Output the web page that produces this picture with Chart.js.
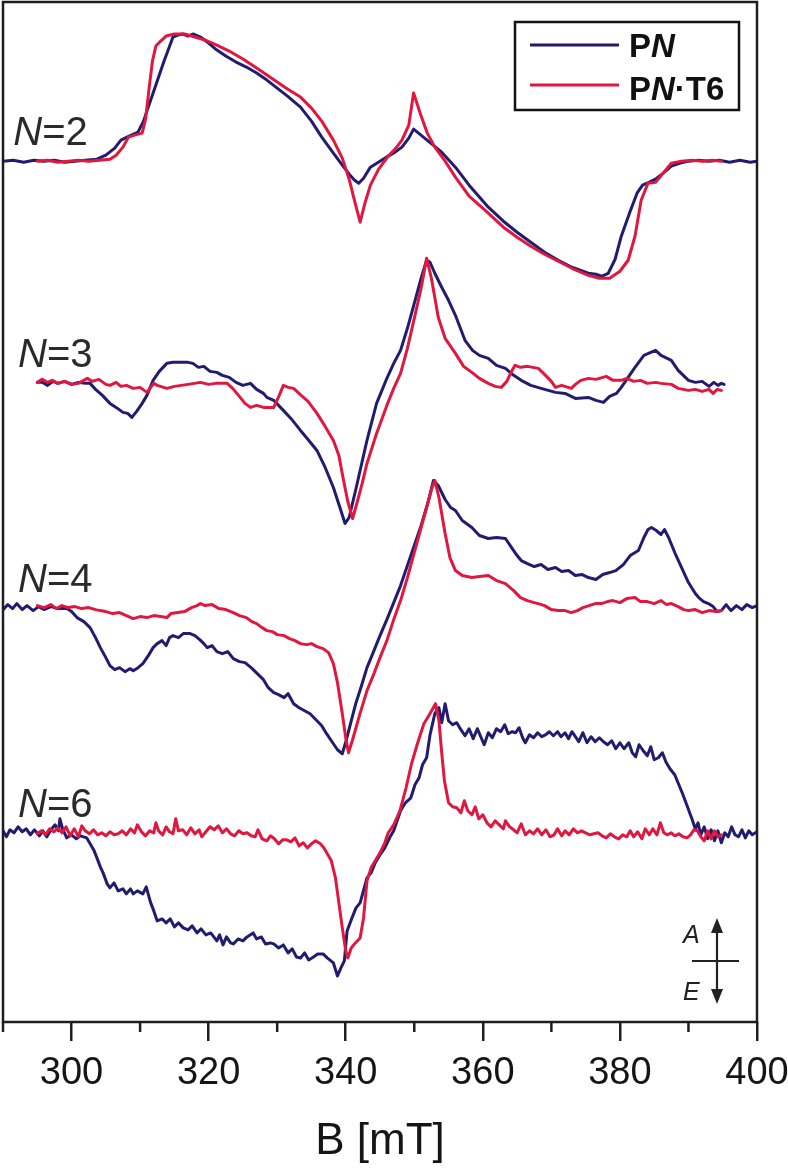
<!DOCTYPE html>
<html>
<head>
<meta charset="utf-8">
<script src="https://cdn.jsdelivr.net/npm/chart.js@4.4.1/dist/chart.umd.min.js"></script>
<style>
  html, body { margin: 0; padding: 0; background: #fff; }
  #chart { display: block; }
</style>
</head>
<body>
<canvas id="chart" width="788" height="1168"></canvas>
<script>
// field axis
const fieldTicks = [300, 320, 340, 360, 380, 400];
const minorTicks = [290, 310, 330, 350, 370, 390];

// stacked spectra: N value and the vertical offset of its baseline (arb. units)
const nValues = [2, 3, 4, 6];
const baselines = [860, 638, 414, 189];
const seriesNames = ['PN', 'PN·T6'];

// [B (mT), signal], signal > 0 = absorption
const pn2 = [[290,0],[291.5,1],[293,-1],[294.5,1],[296,0],[297.5,1],[299,-1],[300.5,0],[302,1],[303.7,2],[305,6],[306.3,13],[307.2,21],[308.4,25],[309.7,29],[310.5,40],[311.5,60],[312.5,80],[313.5,100],[314.8,124],[315.5,126],[316.3,127],[317,125],[317.8,127],[318.8,124],[320,118],[321.2,111],[322.5,105],[324,99],[325.5,94],[327,88],[328.5,81],[330,73],[331.5,65],[333.4,54],[335,40],[336.5,24],[338.2,8],[339.5,-4],[340.5,-13],[341.3,-19],[341.9,-22],[342.6,-17],[343.6,-6],[345,0],[346.2,5],[347.2,9],[348.2,14],[349.2,23],[349.9,32],[350.8,27],[352.4,18],[354,9],[356,-6],[358,-24],[360.8,-46],[363,-60],[365,-71],[367,-81],[369,-91],[371,-99],[373,-106],[375.4,-112],[376.5,-113],[377.3,-115],[378.3,-112],[379.3,-98],[380.2,-75],[381.5,-50],[382.5,-32],[383.3,-24],[384.3,-21],[385.2,-18],[386.5,-11],[387.5,-5],[388.8,-2],[390,0],[391.5,1],[393,0],[394.5,1],[396,-1],[397.5,1],[399,-1],[400,0]];
const t6_2 = [[295,0],[296.5,1],[298,-1],[299.5,0],[301,1],[302.5,0],[304,1],[305.6,2],[306.5,6],[307.5,14],[308.3,24],[309.2,26],[310.3,28],[310.8,42],[311.3,72],[311.8,100],[312.3,115],[313,120],[313.8,125],[315,127],[316.5,127],[318,124],[319.5,121],[321.2,116],[323,110],[325,102],[327,93],[328.5,86],[330,79],[331.5,72],[333.4,64],[335,53],[336.5,40],[338.2,21],[339.5,3],[340.5,-18],[341.3,-40],[342.1,-61],[342.8,-42],[343.6,-24],[344.8,-8],[346.2,5],[347.2,12],[348.2,21],[349.2,36],[349.9,68],[351,45],[351.9,28],[353,14],[354.5,0],[356,-16],[358,-35],[360.8,-52],[363,-66],[365,-76],[367,-85],[369,-93],[371,-100],[373,-107],[375.4,-114],[377,-117],[378.5,-117],[380,-110],[381.2,-99],[382.2,-75],[383.1,-39],[384.1,-22],[385.2,-21],[386.3,-12],[387.5,-2],[389,0],[390.5,1],[392,0],[393.5,1],[394.8,0]];

const pn3 = [[295,1],[295.8,1],[296.5,-2],[297.3,2],[298,0],[299,2],[300,-1],[301,1],[302,0],[302.7,0],[303.5,-6],[304.5,-12],[305.6,-20],[306.5,-24],[307.5,-29],[308.2,-30],[308.8,-34],[309.5,-28],[310.3,-20],[311,-12],[311.9,3],[312.8,12],[313.9,20],[314.8,21],[316,21],[317,21],[317.7,20],[318.5,16],[319.3,17],[320.2,12],[321.2,11],[322,8],[323,6],[324,1],[325,-2],[326.1,0],[327,-6],[328,-10],[328.5,-14],[329.5,-17],[330.9,-27],[332,-35],[333.4,-47],[334.5,-56],[335.8,-67],[337,-84],[338.2,-104],[339.2,-125],[339.9,-140],[340.5,-134],[341.5,-105],[343.1,-57],[344.5,-20],[346,5],[347,20],[348,33],[349,55],[350,80],[351,105],[351.8,123],[352.3,121],[353,110],[354,96],[355,83],[356,68],[357.4,43],[358.5,33],[359.5,28],[360.8,25],[362,18],[363.3,15],[364.5,8],[365.6,3],[367,-2],[368.5,-5],[370.6,-9],[372,-10],[373.5,-15],[375.4,-14],[376.5,-17],[377.6,-19],[378.5,-13],[379.5,-10],[380.2,-4],[381.2,6],[382.2,16],[383.5,28],[384.5,31],[385.2,33],[386,28],[387.5,23],[388.5,13],[390,3],[391,1],[392,2],[393,-3],[393.7,1],[394.3,-2],[394.8,0],[395.2,-1]];
const t6_3 = [[295,1],[295.7,4],[296.5,1],[297.2,3],[298,0],[299,2],[300,-1],[301,0],[302.3,5],[303,2],[304,4],[305,-1],[305.6,-2],[306.5,1],[307.2,-3],[308,-2],[309,-5],[310,-4],[311,-9],[312,0],[312.5,-2],[313.9,-5],[315,-3],[316,-2],[317,-1],[318.8,1],[320,-1],[321,0],[322.7,0],[323.5,-5],[324.6,-14],[325.3,-20],[326.1,-24],[327,-22],[328,-24],[329.5,-24],[330.3,-12],[330.9,-2],[331.6,-4],[332.4,-5],[333.5,-12],[334.5,-18],[335.8,-30],[337,-43],[338.2,-57],[339,-72],[339.6,-94],[340.3,-118],[341,-135],[341.7,-118],[342.4,-100],[343.1,-80],[344.5,-50],[346,-22],[347,-5],[348,10],[349,35],[350,65],[351,95],[351.8,125],[352.5,105],[353.5,66],[354.5,45],[356,30],[357.2,17],[358.4,11],[359.5,5],[360.8,0],[361.8,-3],[362.7,-4],[363.5,2],[364.2,12],[364.7,18],[365.5,16],[366.5,17],[368.1,15],[369,9],[370,2],[370.6,-4],[371.5,-2],[372.9,-5],[373.5,-1],[374.3,3],[375.4,5],[376.5,4],[378,7],[379,3],[380.2,3],[381,5],[382,2],[383,3],[384,0],[385.2,1],[386,0],[387.5,-1],[388.5,-5],[390,-7],[391,-6],[392,-8],[393,-6],[393.6,-10],[394.2,-6],[394.8,-7]];

const pn4 = [[290,-2],[290.7,3],[291.4,-1],[292,4],[292.8,-2],[293.5,2],[294.4,-3],[295.2,1],[296,-2],[297,1],[298,-1],[299.3,-1],[300,-4],[300.8,-10],[301.8,-14],[302.7,-20],[303.5,-30],[304.2,-40],[305,-50],[305.6,-58],[306.3,-62],[307,-60],[307.8,-64],[308.5,-61],[309,-63],[309.7,-60],[310.4,-56],[311.2,-48],[311.9,-40],[312.5,-36],[313.2,-33],[313.8,-38],[314.3,-30],[314.8,-28],[315.6,-30],[316.3,-26],[317.3,-26],[318,-28],[318.7,-32],[319.3,-36],[319.8,-40],[320.5,-38],[321.2,-44],[322,-46],[322.8,-44],[323.6,-51],[324.5,-54],[325.3,-55],[326.2,-60],[327.1,-66],[328,-72],[328.7,-80],[329.5,-85],[330.2,-87],[331,-90],[331.6,-86],[332.4,-96],[333.2,-100],[334,-103],[334.8,-106],[335.8,-113],[336.5,-118],[337.2,-126],[338.2,-136],[338.8,-142],[339.5,-146],[340.1,-132],[340.7,-116],[341.5,-95],[342.3,-78],[343.1,-60],[344,-45],[345,-28],[346,-12],[347,5],[348,22],[349,42],[350,62],[351,82],[352,105],[352.8,127],[353.5,122],[354.5,108],[355.3,100],[356,97],[357,87],[358.4,80],[359.5,72],[360.8,69],[362,70],[363.3,69],[364.2,60],[365,52],[365.6,47],[366.5,44],[367.5,41],[368.5,43],[369.5,38],[370.6,40],[371.5,36],[372.5,37],[373.5,32],[374.5,33],[375.4,30],[376.5,28],[377.5,33],[378.5,35],[379.4,37],[380.5,43],[381.5,52],[382.7,57],[383.5,70],[384.1,78],[384.6,80],[385.3,77],[386,73],[386.5,78],[387.1,70],[388,55],[389,40],[390,25],[391,14],[391.5,10],[392.2,6],[392.9,4],[393.6,1],[394.2,-4],[394.8,-3],[395.5,3],[396.2,-3],[397,2],[397.8,-2],[398.5,3],[399.3,0],[400,2]];
const t6_4 = [[295,2],[296,0],[297,3],[297.8,-1],[298.6,2],[299.5,0],[300.5,1],[301.5,-1],[302.5,0],[303.5,-2],[304.2,-3],[305,-4],[306,-6],[307,-5],[308,-8],[309,-11],[310,-9],[311,-10],[312,-8],[313,-9],[313.9,-10],[314.5,-6],[315.5,-5],[316.5,-4],[317.5,0],[318.3,2],[318.8,4],[319.5,2],[320.5,3],[321.5,-1],[322.5,-2],[323.6,-5],[324.5,-8],[325.5,-10],[326.3,-14],[327,-16],[327.8,-20],[328.5,-23],[329.3,-24],[330,-27],[331,-28],[331.8,-31],[332.6,-33],[333.4,-36],[334.3,-37],[335,-36],[335.8,-39],[336.7,-41],[337.5,-45],[338.2,-56],[338.8,-75],[339.5,-106],[340,-130],[340.4,-145],[341,-132],[342,-108],[343.1,-83],[344,-68],[345,-50],[346,-33],[347,-12],[348,7],[349,30],[350,55],[351,80],[352,105],[352.6,120],[353,127],[353.6,110],[354.5,74],[355.2,50],[356,37],[357,32],[358.4,30],[359.5,31],[360.8,32],[362,27],[363.3,24],[364.5,17],[365.5,10],[366.5,7],[367.5,5],[368.1,4],[369,2],[370,-2],[371,-3],[372,-3],[372.9,-5],[373.8,-3],[374.6,0],[375.5,2],[376.4,4],[377.3,4],[378.2,6],[379,7],[380,5],[381,9],[382.2,10],[383,6],[384,6],[385,4],[386,7],[386.8,3],[387.5,4],[388.5,1],[389.3,-2],[390,-3],[391,-2],[392,-5],[393,-3],[394,-4],[394.8,-3]];

const pn6 = [[290,2],[290.5,-4],[291,3],[291.6,0],[292.2,6],[292.8,1],[293.4,4],[294,-2],[294.6,3],[295.3,-3],[295.8,2],[296.4,-4],[297,3],[297.6,8],[298.1,2],[298.3,14],[298.7,4],[299.3,-5],[300,-2],[300.7,-6],[301.3,-3],[302.2,-5],[302.8,-12],[303.3,-18],[303.7,-25],[304.2,-34],[304.6,-40],[305.2,-51],[305.6,-55],[306.2,-50],[306.8,-58],[307.5,-56],[308,-61],[308.6,-56],[309,-61],[309.6,-58],[310.4,-61],[310.9,-54],[311.5,-69],[312,-78],[312.5,-88],[313.2,-86],[313.8,-90],[314.4,-86],[315,-94],[315.6,-90],[316.3,-95],[317,-97],[317.6,-93],[318.3,-100],[318.9,-96],[319.6,-102],[320.3,-100],[321.2,-108],[321.6,-102],[322.1,-112],[322.6,-104],[323.2,-110],[323.6,-111],[324.3,-106],[325,-108],[325.6,-104],[326.5,-100],[327,-106],[327.7,-104],[328.3,-111],[329,-110],[329.5,-111],[330.2,-115],[330.9,-112],[331.6,-120],[332.2,-116],[332.8,-124],[333.4,-125],[334,-120],[334.6,-127],[335.3,-124],[335.9,-121],[336.7,-121],[337.3,-125],[338.2,-130],[338.8,-143],[339.3,-135],[339.8,-128],[340.2,-98],[340.8,-87],[341.5,-75],[342.1,-70],[343.1,-45],[343.7,-40],[344.3,-30],[345,-22],[345.7,-15],[346.4,-5],[347,2],[348,22],[348.7,30],[349.5,35],[350.1,48],[350.7,55],[351.2,68],[351.8,75],[352.3,98],[353,119],[353.6,125],[354,110],[354.5,129],[355,112],[355.6,108],[356.2,110],[356.8,103],[357.4,97],[358,104],[358.6,94],[359.2,104],[359.7,96],[360.2,88],[360.8,100],[361.4,95],[362,104],[362.6,101],[363.2,108],[363.7,99],[364.3,101],[364.8,100],[365.3,105],[365.8,95],[366.2,90],[366.8,98],[367.4,95],[368,100],[368.6,96],[369.2,98],[369.7,101],[370.3,97],[370.9,101],[371.4,96],[372,100],[372.5,94],[373,101],[373.5,96],[374,91],[374.6,100],[375.2,90],[375.8,96],[376.4,91],[377,95],[377.6,91],[378.2,88],[378.8,92],[379.4,84],[380,90],[380.6,84],[381.3,90],[381.8,80],[382.3,76],[382.8,88],[383.4,82],[384,77],[384.5,86],[385,73],[385.6,75],[386.2,80],[386.7,71],[387.3,64],[388,58],[388.6,48],[389.2,38],[389.8,27],[390.5,14],[391,4],[391.4,10],[391.8,-2],[392.3,6],[392.8,-6],[393.3,3],[393.8,-8],[394.3,2],[394.8,-10],[395.3,0],[395.8,-4],[396.3,6],[396.8,-2],[397.3,-4],[397.8,3],[398.3,-5],[398.8,2],[399.3,-2],[400,1]];
const t6_6 = [[295,-1],[295.6,2],[296.2,-2],[296.8,4],[297.4,1],[298,5],[298.6,0],[299.2,6],[299.8,-3],[300.4,4],[301,-4],[301.5,7],[302,2],[302.6,-1],[303.2,3],[303.8,-2],[304.4,0],[305,-3],[305.6,1],[306.2,-2],[306.8,-1],[307.4,2],[308,-2],[308.6,4],[309.2,0],[309.6,8],[310.2,1],[310.8,-3],[311.4,2],[312,0],[312.3,10],[312.7,2],[313.3,-2],[313.8,6],[314.3,1],[314.8,-1],[315.2,14],[315.6,2],[316.2,3],[316.8,-2],[317.4,5],[318,-1],[318.6,3],[319,-4],[319.6,1],[320.2,6],[320.8,3],[321.4,7],[322,0],[322.6,4],[323.2,-1],[323.8,-3],[324.4,2],[325,-1],[325.6,0],[326.2,-3],[326.8,-4],[327.2,3],[327.8,-6],[328.5,-8],[329,-3],[329.6,-6],[330.2,-11],[330.8,-7],[331.4,-7],[332,-9],[332.6,-5],[333.2,-13],[333.8,-10],[334.4,-15],[335,-11],[335.6,-8],[336.3,-11],[336.8,-15],[337.4,-22],[337.9,-28],[338.5,-45],[339,-70],[339.5,-95],[340,-118],[340.3,-125],[340.8,-115],[341.4,-110],[342.1,-105],[342.6,-85],[343.1,-48],[343.7,-35],[344.3,-28],[345,-20],[345.7,-10],[346.2,0],[347,8],[347.9,22],[348.8,45],[349.6,69],[350.5,90],[351.4,109],[352.2,118],[353.1,129],[353.6,112],[354,80],[354.4,52],[355,30],[355.6,26],[356.2,25],[356.8,20],[357.3,32],[357.8,22],[358.4,18],[358.9,26],[359.4,14],[360,18],[360.6,10],[361.2,6],[361.8,12],[362.4,8],[363,4],[363.3,12],[363.9,6],[364.5,3],[365,0],[365.6,9],[366.2,-2],[366.8,2],[367.4,-1],[368,4],[368.6,-2],[369.2,3],[369.8,-4],[370.4,-2],[370.9,4],[371.5,-3],[372,2],[372.6,-2],[373.2,4],[373.8,0],[374.4,2],[375,0],[375.6,-2],[376.2,-1],[376.8,0],[377.4,-3],[378,-5],[378.6,-1],[379.2,-4],[379.8,-6],[380.4,-2],[381,-4],[381.5,2],[382,-4],[382.6,1],[383.2,-6],[383.7,4],[384.3,-2],[384.8,4],[385.4,-2],[385.9,10],[386.4,0],[386.9,-2],[387.5,0],[388,-3],[388.6,-1],[389.2,-4],[389.8,-5],[390.3,-2],[390.8,3],[391.3,2],[391.8,-4],[392.3,-8],[392.8,2],[393.3,-6],[393.8,2],[394.3,-4],[394.8,-2]];

const pnTraces = [pn2, pn3, pn4, pn6];
const t6Traces = [t6_2, t6_3, t6_4, t6_6];

const BLUE = '#221c70';
const RED = '#e0173f';
const INK = '#1e1e1e';
const SANS = '"Liberation Sans", Arial, sans-serif';

const datasets = [];
nValues.forEach(function(n, i) {
    datasets.push({
        label: seriesNames[1] + ' N=' + n,
        data: t6Traces[i].map(p => ({ x: p[0], y: baselines[i] + p[1] })),
        borderColor: RED,
        order: 0
    });
    datasets.push({
        label: seriesNames[0] + ' N=' + n,
        data: pnTraces[i].map(p => ({ x: p[0], y: baselines[i] + p[1] })),
        borderColor: BLUE,
        order: 1
    });
});

// draws pieces of text with their own font, left to right
function richText(ctx, parts, x, y) {
    parts.forEach(function(p) {
        ctx.font = p[1];
        ctx.fillText(p[0], x, y);
        x += ctx.measureText(p[0]).width;
    });
}

const decor = {
    id: 'decor',
    afterDatasetsDraw(chart) {
        const ctx = chart.ctx;
        const xs = chart.scales.x, ys = chart.scales.y;
        ctx.save();
        ctx.fillStyle = '#2a2a2a';
        ctx.textBaseline = 'alphabetic';
        nValues.forEach(function(n, i) {
            const px = xs.getPixelForValue(i === 0 ? 291.5 : 292.2);
            const py = ys.getPixelForValue(baselines[i] + 16);
            richText(ctx, [['N', 'italic 40px ' + SANS], ['=' + n, '40px ' + SANS]], px, py);
        });
        ctx.restore();
    },
    afterDraw(chart) {
        const ctx = chart.ctx;
        const a = chart.chartArea;
        const xs = chart.scales.x;
        ctx.save();
        // frame
        ctx.strokeStyle = INK;
        ctx.lineWidth = 2.5;
        ctx.strokeRect(a.left, a.top, a.right - a.left, a.bottom - a.top);
        // minor ticks
        minorTicks.forEach(function(v) {
            const px = xs.getPixelForValue(v);
            ctx.beginPath();
            ctx.moveTo(px, a.bottom);
            ctx.lineTo(px, a.bottom + 10);
            ctx.stroke();
        });

        // legend
        ctx.lineWidth = 2.5;
        ctx.strokeStyle = '#111';
        ctx.strokeRect(515, 22, 224, 88);
        ctx.lineWidth = 3;
        [[BLUE, 45], [RED, 85]].forEach(function(s) {
            ctx.strokeStyle = s[0];
            ctx.beginPath();
            ctx.moveTo(530, s[1]);
            ctx.lineTo(619, s[1]);
            ctx.stroke();
        });
        ctx.fillStyle = '#111';
        ctx.textBaseline = 'alphabetic';
        richText(ctx, [['P', 'bold 33px ' + SANS], ['N', 'italic bold 33px ' + SANS]], 629, 57);
        richText(ctx, [['P', 'bold 33px ' + SANS], ['N', 'italic bold 33px ' + SANS], ['·T6', 'bold 33px ' + SANS]], 629, 100);

        // A / E direction marker
        ctx.strokeStyle = '#222';
        ctx.fillStyle = '#222';
        ctx.lineWidth = 2.2;
        ctx.beginPath();
        ctx.moveTo(717, 930); ctx.lineTo(717, 991);
        ctx.moveTo(692, 961); ctx.lineTo(739, 961);
        ctx.stroke();
        ctx.beginPath();
        ctx.moveTo(717, 918); ctx.lineTo(711, 933); ctx.lineTo(723, 933); ctx.closePath();
        ctx.moveTo(717, 1004); ctx.lineTo(711, 989); ctx.lineTo(723, 989); ctx.closePath();
        ctx.fill();
        ctx.font = 'italic 25px ' + SANS;
        ctx.fillText('A', 683, 943);
        ctx.fillText('E', 683, 1000);
        ctx.restore();
    }
};

new Chart(document.getElementById('chart'), {
    type: 'line',
    data: { datasets: datasets },
    options: {
        responsive: false,
        animation: false,
        layout: { padding: { left: 3, right: 31, top: 2, bottom: 0 } },
        elements: {
            line: { borderWidth: 3, tension: 0, borderJoinStyle: 'round', borderCapStyle: 'round' },
            point: { radius: 0 }
        },
        plugins: { legend: { display: false }, tooltip: { enabled: false } },
        scales: {
            x: {
                type: 'linear',
                position: 'bottom',
                min: 290,
                max: 400,
                afterBuildTicks: function(scale) {
                    scale.ticks = fieldTicks.map(v => ({ value: v }));
                },
                afterFit: function(scale) {
                    scale.height = 146;
                    scale.paddingLeft = 0;
                    scale.paddingRight = 0;
                },
                border: { display: false },
                grid: { drawOnChartArea: false, drawTicks: true, tickLength: 19, lineWidth: 2.5, color: INK },
                ticks: {
                    autoSkip: false,
                    maxRotation: 0,
                    padding: 10,
                    color: '#151515',
                    font: { family: SANS, size: 38 }
                },
                title: {
                    display: true,
                    text: 'B [mT]',
                    color: '#151515',
                    padding: 0,
                    font: { family: SANS, size: 44 }
                }
            },
            y: {
                type: 'linear',
                display: false,
                min: 0,
                max: 1019
            }
        }
    },
    plugins: [decor]
});
</script>
</body>
</html>
